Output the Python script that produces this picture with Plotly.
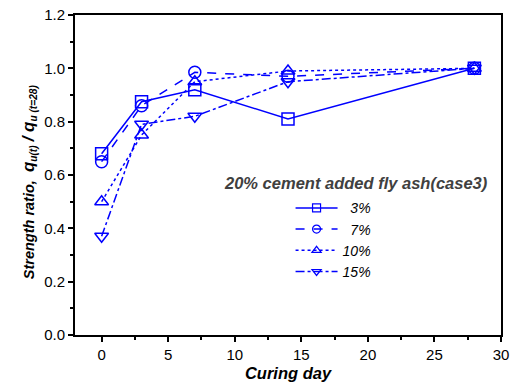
import plotly.graph_objects as go

days = [0, 3, 7, 14, 28]
s3 = [0.68, 0.875, 0.92, 0.81, 1.0]
s7 = [0.65, 0.86, 0.985, 0.97, 1.0]
s10 = [0.50, 0.75, 0.95, 0.99, 1.0]
s15 = [0.37, 0.79, 0.82, 0.95, 1.0]
names = ["3%", "7%", "10%", "15%"]
series = [s3, s7, s10, s15]
dashes = ["solid", "dash", "dot", "dashdot"]
symbols = ["square-open", "circle-open", "triangle-up-open", "triangle-down-open"]
legend_title = "20% cement added fly ash(case3)"

blue = "#0000FF"
font = "Arial, Liberation Sans, sans-serif"

fig = go.Figure()
for n, s, d, sym in zip(names, series, dashes, symbols):
    fig.add_trace(go.Scatter(
        x=days, y=s, name=n, mode="lines+markers", showlegend=False,
        line=dict(color=blue, width=1.5, dash=d),
        marker=dict(symbol=sym, size=12, color=blue, line=dict(width=1.5, color=blue)),
    ))
# legend entries (smaller symbols, right-aligned labels)
for n, d, sym in zip(names, dashes, symbols):
    label = n if len(n) == 3 else "\u2007" + n
    fig.add_trace(go.Scatter(
        x=[None], y=[None], name="<i>" + label + "</i>", mode="lines+markers",
        line=dict(color=blue, width=1.5, dash=d),
        marker=dict(symbol=sym, size=8, color=blue, line=dict(width=1.2, color=blue)),
    ))

ytitle = ("<b><i>Strength ratio,  <span style='font-size:17px'>q</span><sub>u(t)</sub>"
          " <span style='font-size:17px'>/ q</span><sub>u (t=28)</sub></i></b>")

fig.update_layout(
    width=525, height=382,
    margin=dict(l=75, r=24, t=15, b=47),
    paper_bgcolor="white", plot_bgcolor="white",
    font=dict(family=font, size=15, color="black"),
    showlegend=True,
    legend=dict(
        x=0.506, y=0.446, xanchor="left", yanchor="top",
        bgcolor="rgba(0,0,0,0)",
        font=dict(size=14, color="black"),
        tracegroupgap=0, itemwidth=42,
    ),
    annotations=[
        dict(text="<b><i>" + legend_title + "</i></b>", xref="paper", yref="paper",
             x=0.66, y=0.475, xanchor="center", yanchor="middle", showarrow=False,
             font=dict(size=16.5, color="#404040")),
        dict(text=ytitle, xref="paper", yref="paper", textangle=-90,
             x=-0.106, y=0.48, xanchor="center", yanchor="middle", showarrow=False,
             font=dict(size=14.5, color="black")),
    ],
    xaxis=dict(
        range=[-2, 30], tickmode="array", tickvals=[0, 5, 10, 15, 20, 25, 30],
        ticks="outside", ticklen=5, tickwidth=1.5, tickcolor="black",
        minor=dict(tickvals=[2.5, 7.5, 12.5, 17.5, 22.5, 27.5], ticks="outside", ticklen=3, tickcolor="black", tickwidth=1.5),
        showline=True, linecolor="black", linewidth=2, mirror=True,
        showgrid=False, zeroline=False, automargin=False,
        title=dict(text="<b><i>Curing day</i></b>", font=dict(size=16.5)),
    ),
    yaxis=dict(
        range=[0, 1.2], tickmode="array", tickvals=[0, 0.2, 0.4, 0.6, 0.8, 1.0, 1.2],
        ticktext=["0.0", "0.2", "0.4", "0.6", "0.8", "1.0", "1.2"],
        ticks="outside", ticklen=5, tickwidth=1.5, tickcolor="black",
        minor=dict(tickvals=[0.1, 0.3, 0.5, 0.7, 0.9, 1.1], ticks="outside", ticklen=3, tickcolor="black", tickwidth=1.5),
        showline=True, linecolor="black", linewidth=2, mirror=True,
        showgrid=False, zeroline=False, automargin=False,
    ),
)

fig.write_html("out.html")
